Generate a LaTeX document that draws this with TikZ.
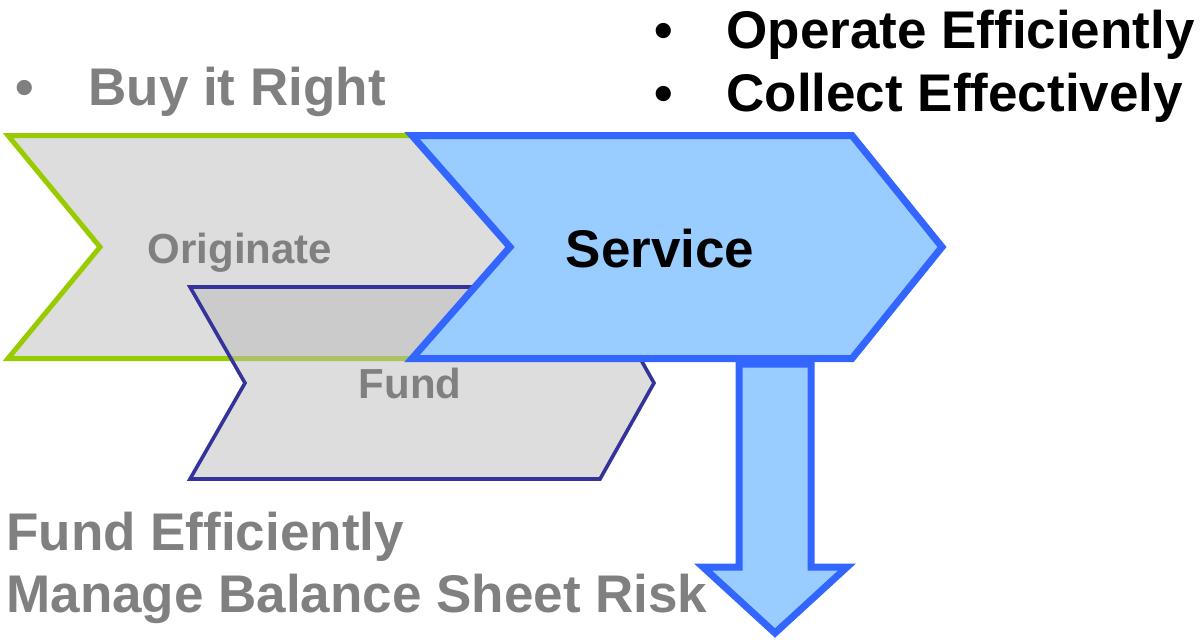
\documentclass[tikz,border=0pt]{standalone}
\usepackage{fontspec}
\setmainfont{Liberation Sans}
\usepackage{tikz}

\definecolor{leafgreen}{HTML}{99CC00}
\definecolor{chevgray}{HTML}{DDDDDD}
\definecolor{fundgray}{HTML}{BBBBBB}
\definecolor{fundblue}{HTML}{333399}
\definecolor{serviceblue}{HTML}{3366FF}
\definecolor{skyblue}{HTML}{99CCFF}
\definecolor{textgray}{HTML}{808080}

\tikzset{
	bigtext/.style={inner sep=0pt, anchor=base west, font=\bfseries\fontsize{26.5}{31}\selectfont},
	bullettext/.style={inner sep=0pt, anchor=base, font=\bfseries\fontsize{26.5}{31}\selectfont},
	steptext/.style={inner sep=0pt, anchor=base, font=\bfseries\fontsize{21}{25}\selectfont},
	servicetext/.style={inner sep=0pt, anchor=base, font=\bfseries\fontsize{26.5}{31}\selectfont}
}

\begin{document}
\begin{tikzpicture}[x=0.5pt,y=-0.5pt]
	\useasboundingbox (0,0) rectangle (1204,639);
		% originate chevron
	\draw[leafgreen, line width=2.5pt, fill=chevgray] (8,135.5) -- (412,135.5) -- (510,247) -- (412,358.5) -- (8,358.5) -- (100,247) -- cycle;
	\node[steptext, text=textgray] (originate) at (240,263) {Originate};
	
		% fund chevron
	\draw[fundblue, line width=1.8pt, fill=fundgray, fill opacity=0.5] (190,287) -- (600,287) -- (654,383) -- (600,479) -- (190,479) -- (245,383) -- cycle;
	\node[steptext, text=textgray] (fund) at (410,398) {Fund};
	
		% arrow down
	\draw[serviceblue, line width=3.5pt, fill=skyblue] (739,364) -- (739,567) -- (703,567) -- (775,633) -- (847,567) -- (811,567) -- (811,364) -- cycle;
	
		% service chevron
	\draw[serviceblue, line width=3.5pt, fill=skyblue] (412,135.5) -- (852,135.5) -- (942,247) -- (852,358.5) -- (412,358.5) -- (510,247) -- cycle;
	\node[servicetext] (service) at (660,267) {Service};
	
		% goals
	\node[bullettext, text=textgray] (buydot) at (25,105) {•};
	\node[bigtext, text=textgray] (buy) at (88,105) {Buy it Right};
	\node[bullettext] (operatedot) at (664,48) {•};
	\node[bigtext] (operate) at (726,48) {Operate Efficiently};
	\node[bullettext] (collectdot) at (664,111) {•};
	\node[bigtext] (collect) at (726,111) {Collect Effectively};
	\node[bigtext, text=textgray] (fundeff) at (6,550) {Fund Efficiently};
	\node[bigtext, text=textgray] (manage) at (6,612) {Manage Balance Sheet Risk};
	
\end{tikzpicture}
\end{document}
